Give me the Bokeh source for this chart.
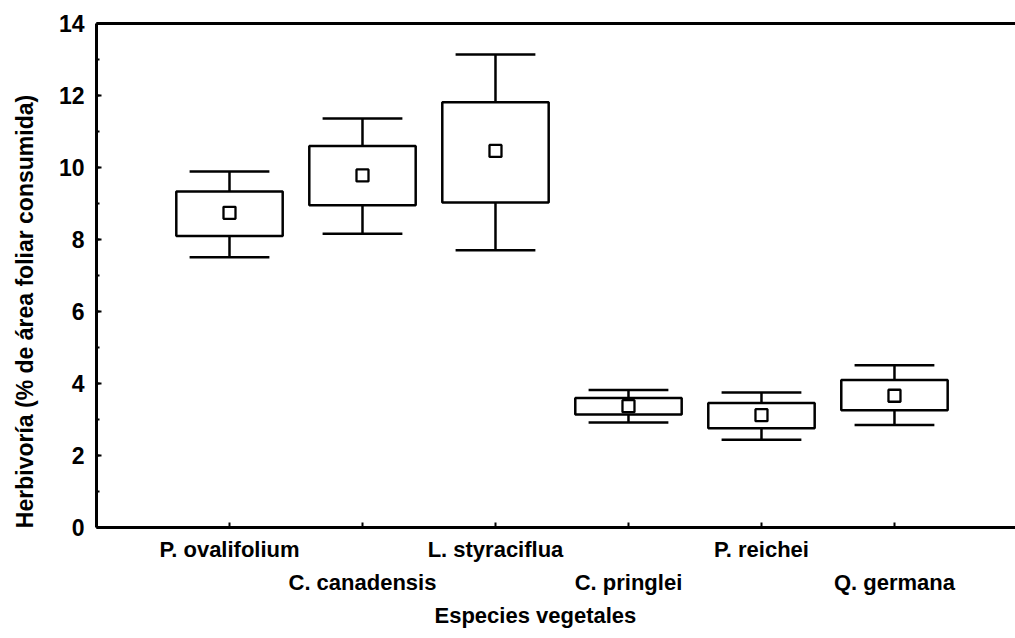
from bokeh.plotting import figure
from bokeh.models import Range1d, LinearAxis, FixedTicker, ColumnDataSource
from bokeh.embed import file_html
from bokeh.resources import INLINE

species = ["P. ovalifolium", "C. canadensis", "L. styraciflua", "C. pringlei", "P. reichei", "Q. germana"]
means = [8.74, 9.78, 10.46, 3.37, 3.12, 3.66]
box_low = [8.10, 8.95, 9.03, 3.14, 2.76, 3.26]
box_high = [9.33, 10.60, 11.81, 3.60, 3.46, 4.10]
whisk_low = [7.51, 8.16, 7.70, 2.92, 2.44, 2.85]
whisk_high = [9.89, 11.36, 13.14, 3.82, 3.75, 4.51]
y_ticks = [0, 2, 4, 6, 8, 10, 12, 14]
x_title = "Especies vegetales"
y_title = "Herbivoría (% de área foliar consumida)"

xs = list(range(1, len(species) + 1))
FONT = "Liberation Sans"

p = figure(width=1015, height=630, output_backend="svg", toolbar_location=None,
           x_range=Range1d(0, 6.91), y_range=Range1d(0, 14),
           x_axis_type=None, y_axis_type=None,
           min_border_left=96, min_border_top=23, min_border_right=0, min_border_bottom=101)
p.outline_line_color = None
p.xgrid.visible = False
p.ygrid.visible = False
p.background_fill_color = "white"
p.border_fill_color = "white"

src = ColumnDataSource(dict(x=xs, mean=means, blo=box_low, bhi=box_high, wlo=whisk_low, whi=whisk_high,
                            cl=[x - 0.3 for x in xs], cr=[x + 0.3 for x in xs]))

LW = 2.5
p.segment(x0="x", y0="bhi", x1="x", y1="whi", source=src, line_color="black", line_width=LW)
p.segment(x0="x", y0="blo", x1="x", y1="wlo", source=src, line_color="black", line_width=LW)
p.segment(x0="cl", y0="whi", x1="cr", y1="whi", source=src, line_color="black", line_width=LW)
p.segment(x0="cl", y0="wlo", x1="cr", y1="wlo", source=src, line_color="black", line_width=LW)
p.vbar(x="x", bottom="blo", top="bhi", width=0.8, source=src, fill_color="white",
       line_color="black", line_width=LW)
p.scatter(x="x", y="mean", source=src, marker="square", size=12, fill_color="white",
          line_color="black", line_width=2.3)


def bare(ax):
    ax.axis_line_color = None
    ax.major_tick_line_color = None
    ax.minor_tick_line_color = None
    ax.major_tick_in = 0
    ax.major_tick_out = 0
    ax.minor_tick_in = 0
    ax.minor_tick_out = 0


def font(ax, size):
    ax.major_label_text_font = FONT
    ax.major_label_text_font_style = "bold"
    ax.major_label_text_font_size = size
    ax.major_label_text_color = "black"


# y axis
yax = LinearAxis(ticker=FixedTicker(ticks=y_ticks, minor_ticks=list(range(0, 15))))
yax.axis_line_width = 3
yax.axis_line_color = "black"
yax.major_tick_in = 5
yax.major_tick_out = 0
yax.minor_tick_in = 3
yax.minor_tick_out = 0
yax.major_tick_line_width = 2
yax.minor_tick_line_width = 2
font(yax, "23px")
yax.major_label_standoff = 12
p.add_layout(yax, "left")

# y title (outer left axis)
ytl = LinearAxis(ticker=FixedTicker(ticks=[6.0]), major_label_overrides={6.0: y_title},
                 major_label_orientation="vertical")
bare(ytl)
font(ytl, "23px")
ytl.major_label_standoff = 18
p.add_layout(ytl, "left")

# top line
top = LinearAxis(ticker=FixedTicker(ticks=[]), major_label_text_font_size="0px")
top.axis_line_width = 3
top.major_tick_line_color = None
top.minor_tick_line_color = None
p.add_layout(top, "above")

# x axes (staggered labels)
odd = xs[0::2]
even = xs[1::2]
ax1 = LinearAxis(ticker=FixedTicker(ticks=xs),
                 major_label_overrides={x: (species[x - 1] if x in odd else "") for x in xs})
ax1.axis_line_width = 3
ax1.major_tick_in = 5
ax1.major_tick_out = 0
ax1.major_tick_line_width = 2
ax1.minor_tick_line_color = None
ax1.major_label_standoff = 9
font(ax1, "22px")
p.add_layout(ax1, "below")

ax2 = LinearAxis(ticker=FixedTicker(ticks=even),
                 major_label_overrides={x: species[x - 1] for x in even})
bare(ax2)
ax2.major_label_standoff = 5
font(ax2, "22px")
p.add_layout(ax2, "below")

# x title (outer bottom axis)
xtl = LinearAxis(ticker=FixedTicker(ticks=[3.3]), major_label_overrides={3.3: x_title})
bare(xtl)
xtl.major_label_standoff = 5
font(xtl, "22px")
p.add_layout(xtl, "below")

open("out.html", "w").write(file_html(p, INLINE))
